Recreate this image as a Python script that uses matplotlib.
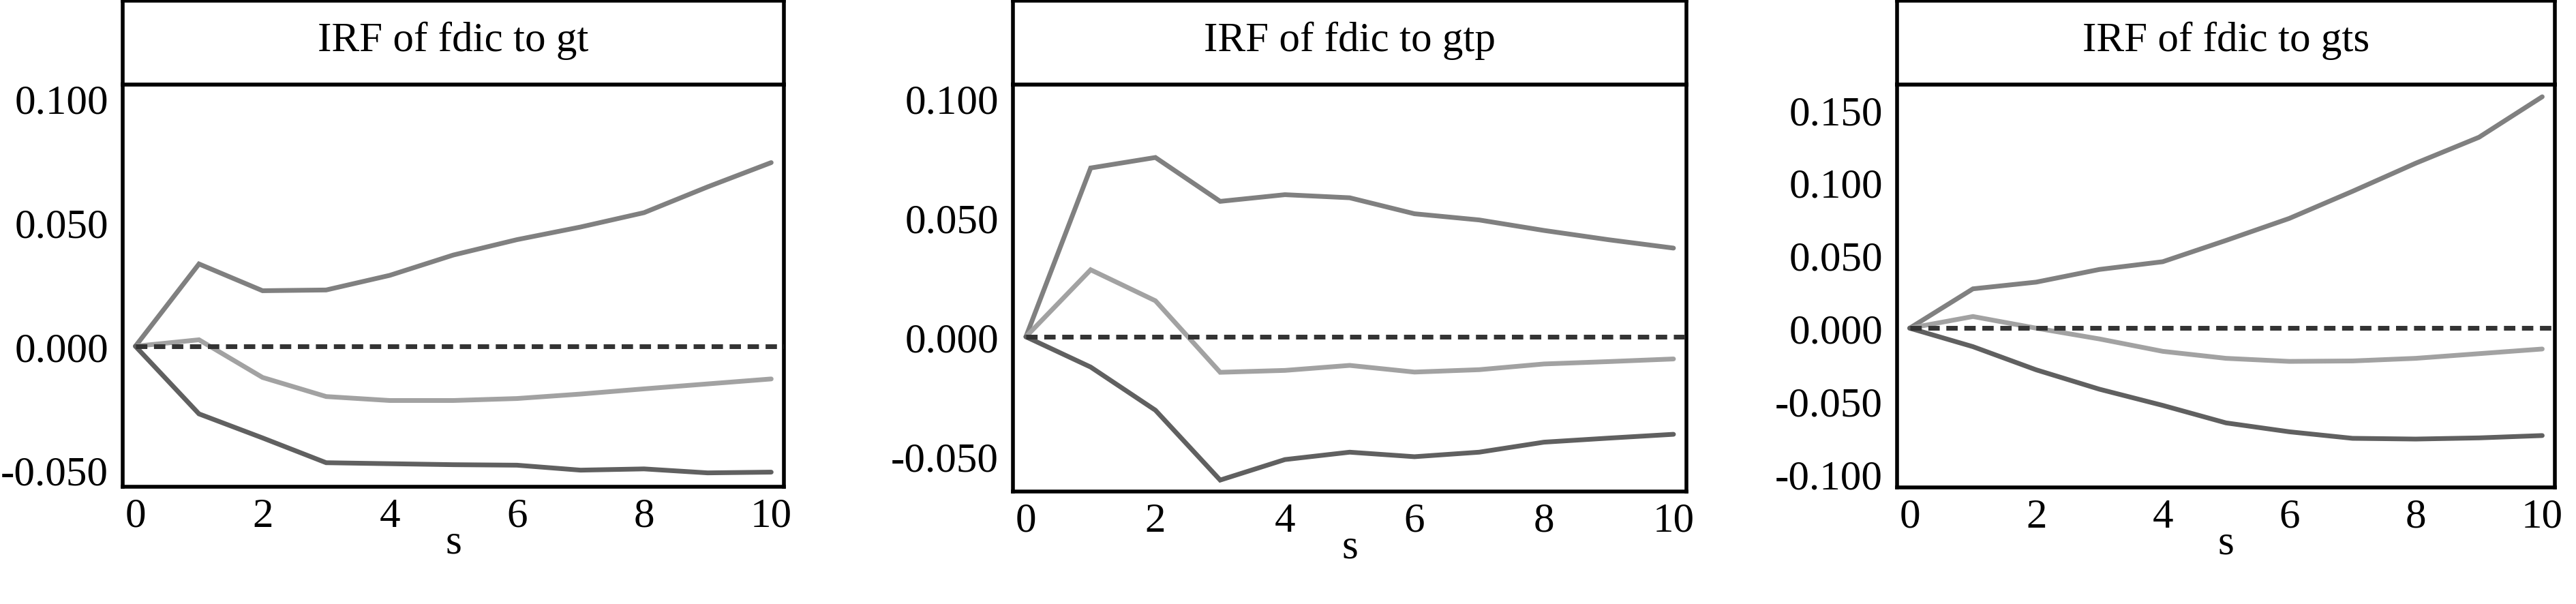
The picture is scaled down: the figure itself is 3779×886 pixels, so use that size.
import matplotlib
matplotlib.use("Agg")
import matplotlib.pyplot as plt
from matplotlib.ticker import FormatStrFormatter

plt.rcParams['font.family'] = ['Liberation Serif', 'DejaVu Serif']
plt.rcParams['axes.unicode_minus'] = False

# datos (horizonte s = 0..10)
s = list(range(11))

titles = ['IRF of fdic to gt', 'IRF of fdic to gtp', 'IRF of fdic to gts']

gt_upper = [0, 0.0332, 0.0224, 0.0227, 0.0286, 0.0368, 0.0430, 0.0481, 0.0539, 0.0643, 0.0741]
gt_irf = [0, 0.0026, -0.0126, -0.0203, -0.0219, -0.0219, -0.0211, -0.0193, -0.0172, -0.0152, -0.0132]
gt_lower = [0, -0.0273, -0.0370, -0.0470, -0.0474, -0.0478, -0.0480, -0.0500, -0.0495, -0.0511, -0.0508]

gtp_upper = [0, 0.0708, 0.0752, 0.0568, 0.0596, 0.0583, 0.0516, 0.0490, 0.0446, 0.0407, 0.0372]
gtp_irf = [0, 0.0281, 0.0151, -0.0149, -0.0141, -0.0120, -0.0148, -0.0138, -0.0114, -0.0104, -0.0093]
gtp_lower = [0, -0.0127, -0.0308, -0.0601, -0.0515, -0.0484, -0.0503, -0.0484, -0.0442, -0.0425, -0.0409]

gts_upper = [0, 0.0270, 0.0316, 0.0403, 0.0456, 0.0602, 0.0753, 0.0939, 0.1132, 0.1310, 0.1588]
gts_irf = [0, 0.0080, 0.0, -0.0074, -0.0159, -0.0207, -0.0228, -0.0225, -0.0207, -0.0175, -0.0143]
gts_lower = [0, -0.0127, -0.0286, -0.0419, -0.0530, -0.0650, -0.0711, -0.0756, -0.0761, -0.0753, -0.0737]

yticks = [[-0.05, 0, 0.05, 0.10],
          [-0.05, 0, 0.05, 0.10],
          [-0.10, -0.05, 0, 0.05, 0.10, 0.15]]
ylims = [(-0.0567, 0.1056), (-0.0649, 0.1058), (-0.1093, 0.1672)]
xlim = (-0.2, 10.2)

series = [(gt_upper, gt_irf, gt_lower),
          (gtp_upper, gtp_irf, gtp_lower),
          (gts_upper, gts_irf, gts_lower)]

# posiciones de los paneles en pixeles (izq, der, abajo)
W, H = 3780, 887
paneles = [(180, 1150, 715), (1486, 2474, 722), (2783, 3748, 716)]
top_plot = 125
top_strip = 2

fig = plt.figure(figsize=(W/100, H/100), dpi=100)

lw_spine = 4.0
lw_line = 5.0
for i, (l, r, b) in enumerate(paneles):
    ax = fig.add_axes([l/W, 1 - b/H, (r-l)/W, (b-top_plot)/H])
    axs = fig.add_axes([l/W, 1 - top_plot/H, (r-l)/W, (top_plot-top_strip)/H])

    up, irf, lo = series[i]
    ax.plot(s, up, color='#808080', lw=lw_line, solid_capstyle='round', solid_joinstyle='miter')
    ax.plot(s, irf, color='#a2a2a2', lw=lw_line, solid_capstyle='round', solid_joinstyle='miter')
    ax.plot(s, lo, color='#606060', lw=lw_line, solid_capstyle='round', solid_joinstyle='miter')
    ax.hlines(0, 0, xlim[1], colors='#333333', lw=lw_line, linestyles=(0, (2.4, 1.4)), zorder=5)

    ax.set_xlim(xlim)
    ax.set_ylim(ylims[i])
    ax.set_xticks([0, 2, 4, 6, 8, 10])
    ax.set_yticks(yticks[i])
    ax.set_xticks([0], minor=True)
    ax.set_yticks([yticks[i][0]], minor=True)
    ax.yaxis.set_major_formatter(FormatStrFormatter('%.3f'))
    ax.tick_params(which='major', length=0, labelsize=44)
    ax.tick_params(axis='y', which='major', pad=15)
    ax.tick_params(axis='x', which='major', pad=11)
    ax.tick_params(which='minor', length=9, width=lw_spine, color='black')
    ax.set_xlabel('s', fontsize=44, labelpad=-12)
    for sp in ax.spines.values():
        sp.set_linewidth(lw_spine)

    axs.set_xticks([])
    axs.set_yticks([])
    for sp in axs.spines.values():
        sp.set_linewidth(lw_spine)
    axs.text(0.5, 0.41, titles[i], ha='center', va='baseline', fontsize=44,
             transform=axs.transAxes)

fig.savefig('out.png', dpi=100)
